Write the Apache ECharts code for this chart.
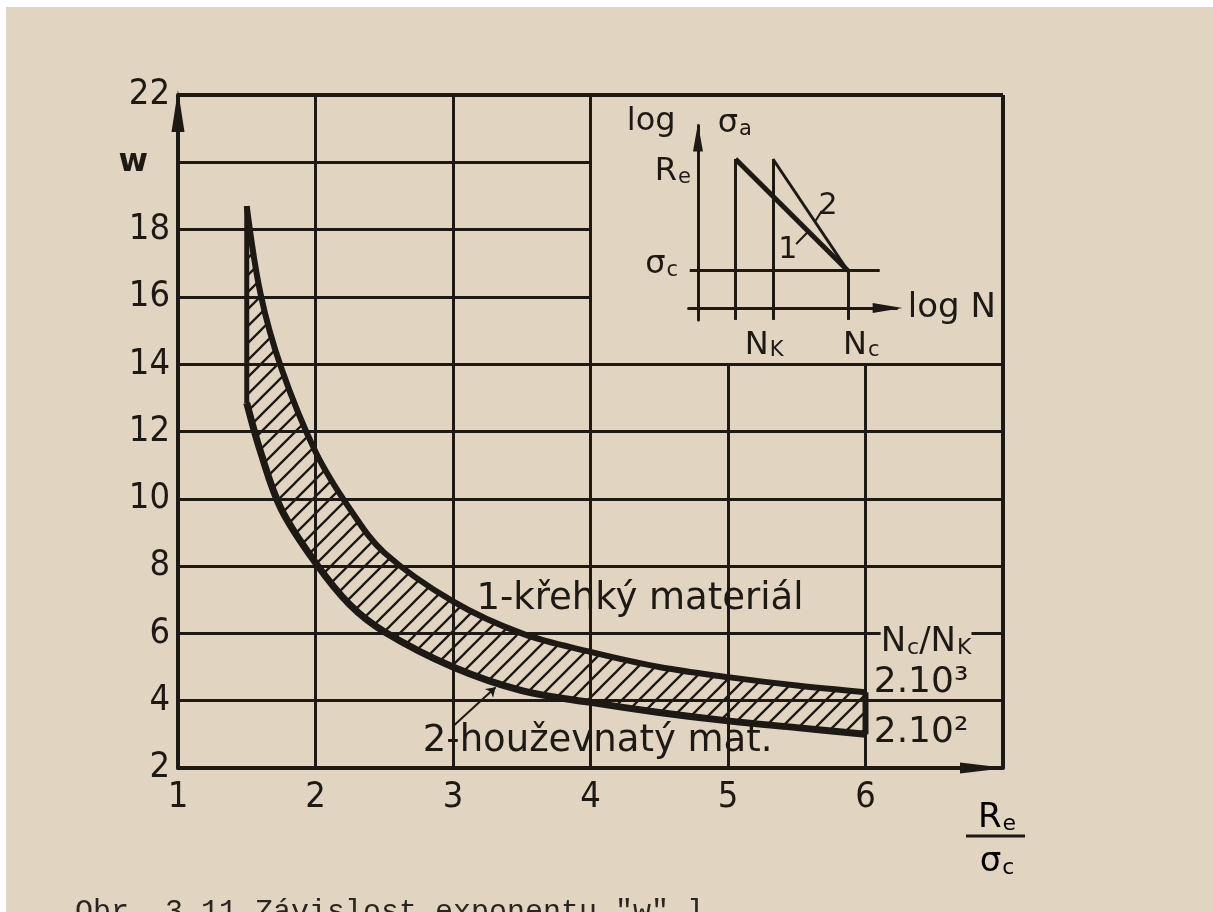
<!DOCTYPE html>
<html><head><meta charset="utf-8">
<script src="https://cdn.jsdelivr.net/npm/echarts@6/dist/echarts.min.js"></script>
<style>
html,body{margin:0;padding:0;background:#ffffff;overflow:hidden;}
#chart{position:absolute;left:6px;top:7px;width:1207px;height:905px;background:#e1d5c2;}
</style></head><body><div id="chart"></div>
<script>
// ---- data ----
const ratio    = [1.5, 1.6, 1.75, 2, 2.25, 2.5, 3, 3.5, 4, 4.5, 5, 5.5, 6];                     // Re / sigma_c
const wBrittle = [18.7, 16.1, 13.9, 11.4, 9.7, 8.4, 6.95, 6.0, 5.45, 5.0, 4.7, 4.45, 4.25];    // 1 - křehký, Nc/Nk = 2.10^3
const wTough   = [12.85, 11.4, 9.7, 8.1, 6.85, 6.05, 5.0, 4.3, 3.95, 3.65, 3.4, 3.2, 3.0];     // 2 - houževnatý, Nc/Nk = 2.10^2
const xTicks = [1, 2, 3, 4, 5, 6, 7];
const xTickLabels = ['1', '2', '3', '4', '5', '6', ''];
const yTicks = [2, 4, 6, 8, 10, 12, 14, 16, 18, 20, 22];
const yTickLabels = ['2', '4', '6', '8', '10', '12', '14', '16', '18', 'w', '22'];
// inset (log sigma_a vs log N)
const insetNK = [1, 2];
const insetNc = 4;
const insetRe = 4;
const insetSigmaC = 1;
const insetLine1 = [[1, 4], [4, 1]];
const insetLine2 = [[2, 4], [4, 1]];

const INK = '#1d1915', PAPER = '#e1d5c2';
const FONT = "'DejaVu Sans Condensed','Liberation Sans Narrow','DejaVu Sans',sans-serif";
const FONT2 = "'DejaVu Sans',sans-serif";
const SM = 0.35;

function hatchPattern() {
  const s = 17, c = document.createElement('canvas');
  c.width = s; c.height = s;
  const g = c.getContext('2d');
  g.strokeStyle = INK; g.lineWidth = 2.3; g.lineCap = 'square';
  g.beginPath();
  g.moveTo(-3, 3); g.lineTo(3, -3);
  g.moveTo(-3, s + 3); g.lineTo(s + 3, -3);
  g.moveTo(s - 3, s + 3); g.lineTo(s + 3, s - 3);
  g.stroke();
  return c;
}

// main grid line segments (the upper-right cell holds the inset)
const gridSegs = [];
xTicks.forEach(x => {
  if (x === 1) return;
  const top = (x === 5 || x === 6) ? 14 : 22;
  gridSegs.push([{coord: [x, 2], lineStyle: {width: x === 7 ? 4 : 3}}, {coord: [x, top]}]);
});
yTicks.forEach(y => {
  if (y === 2) return;
  const right = (y === 16 || y === 18 || y === 20) ? 4 : 7;
  gridSegs.push([{coord: [1, y], lineStyle: {width: y === 22 ? 4 : 3}}, {coord: [right, y]}]);
});

const pts = (arr) => ratio.map((x, i) => [x, arr[i]]);
const last = ratio.length - 1;

const chart = echarts.init(document.getElementById('chart'));

chart.setOption({
  animation: false,
  backgroundColor: PAPER,
  grid: [
    {left: 172, top: 88, width: 825, height: 673},
    {left: 682.6, top: 118.5, width: 208, height: 194.4}
  ],
  xAxis: [
    {type: 'value', gridIndex: 0, min: 1, max: 7, interval: 1, z: 6,
     axisLine: {show: true, lineStyle: {color: INK, width: 4}, symbol: ['none', 'triangle'], symbolSize: [11, 46], symbolOffset: [0, -20]},
     axisTick: {show: false}, splitLine: {show: false},
     axisLabel: {fontFamily: FONT, fontSize: 36, color: INK, margin: 12,
       formatter: v => xTickLabels[xTicks.indexOf(v)]}},
    {type: 'value', gridIndex: 1, min: -0.25, max: 5.3,
     axisLine: {show: true, onZero: true, lineStyle: {color: INK, width: 3}, symbol: ['none', 'triangle'], symbolSize: [10, 30], symbolOffset: [0, -9]},
     axisTick: {show: false}, splitLine: {show: false}, axisLabel: {show: false}}
  ],
  yAxis: [
    {type: 'value', gridIndex: 0, min: 2, max: 22, interval: 2, z: 6,
     axisLine: {show: true, lineStyle: {color: INK, width: 4}, symbol: ['none', 'triangle'], symbolSize: [13, 42], symbolOffset: [0, -16]},
     axisTick: {show: false}, splitLine: {show: false},
     axisLabel: {fontFamily: FONT, fontSize: 36, color: INK, margin: 8,
       formatter: v => { const t = yTickLabels[yTicks.indexOf(v)]; return t === 'w' ? '{w|w}' : t; },
       rich: {w: {fontFamily: FONT2, fontSize: 32, fontWeight: 'bold', color: INK, padding: [0, 22, 0, 0]}}}},
    {type: 'value', gridIndex: 1, min: -0.32, max: 4.9,
     axisLine: {show: true, onZero: true, lineStyle: {color: INK, width: 3}, symbol: ['none', 'triangle'], symbolSize: [10, 28], symbolOffset: [0, -12]},
     axisTick: {show: false}, splitLine: {show: false}, axisLabel: {show: false}}
  ],
  series: [
    // hatch from the upper curve down, then paper under the lower curve -> hatched band between
    {type: 'line', name: 'hatch', data: pts(wBrittle), symbol: 'none', smooth: SM,
     lineStyle: {width: 0, opacity: 0}, silent: true, z: 1,
     areaStyle: {color: {image: hatchPattern(), repeat: 'repeat'}, opacity: 1, origin: 'start'}},
    {type: 'line', name: 'under', data: pts(wTough), symbol: 'none', smooth: SM,
     lineStyle: {width: 0, opacity: 0}, silent: true, z: 2,
     areaStyle: {color: PAPER, opacity: 1, origin: 'start'},
     markLine: {silent: true, symbol: ['none', 'none'], label: {show: false},
       lineStyle: {color: INK, width: 3, type: 'solid'}, data: gridSegs}},
    {type: 'line', name: 'edgeCover', data: [[ratio[0], 2], [ratio[0], wTough[0]]], symbol: 'none',
     lineStyle: {color: PAPER, width: 3}, silent: true, z: 3},
    {type: 'line', name: '1 - křehký materiál', data: pts(wBrittle), symbol: 'none', smooth: SM,
     lineStyle: {color: INK, width: 6}, z: 4,
     markLine: {silent: true, symbol: ['none', 'arrow'], symbolSize: 9, label: {show: false},
       lineStyle: {color: INK, width: 2, type: 'solid'},
       data: [[{coord: [3.01, 3.28]}, {coord: [3.31, 4.4]}]]}},
    {type: 'line', name: '2 - houževnatý materiál', data: pts(wTough), symbol: 'none', smooth: SM,
     lineStyle: {color: INK, width: 7}, z: 4},
    {type: 'line', name: 'leftEdge', data: [[ratio[0], wTough[0]], [ratio[0], wBrittle[0]]], symbol: 'none',
     lineStyle: {color: INK, width: 5}, z: 4},
    {type: 'line', name: 'rightEdge', data: [[ratio[last], wTough[last]], [ratio[last], wBrittle[last]]], symbol: 'none',
     lineStyle: {color: INK, width: 6}, z: 4},
    // inset
    {type: 'line', xAxisIndex: 1, yAxisIndex: 1, data: insetLine1, symbol: 'none',
     lineStyle: {color: INK, width: 5}, z: 4,
     markLine: {silent: true, symbol: ['none', 'none'], label: {show: false},
       lineStyle: {color: INK, width: 3, type: 'solid'},
       data: [
         [{coord: [-0.3, insetRe]}, {coord: [insetNK[1], insetRe]}],
         [{coord: [-0.22, insetSigmaC]}, {coord: [4.85, insetSigmaC]}],
         [{coord: [insetNK[0], -0.32]}, {coord: [insetNK[0], insetRe]}],
         [{coord: [insetNK[1], -0.32]}, {coord: [insetNK[1], insetRe]}],
         [{coord: [insetNc, -0.32]}, {coord: [insetNc, insetSigmaC]}],
         [{coord: [2.62, 1.72], lineStyle: {width: 2}}, {coord: [2.93, 2.04]}],
         [{coord: [3.13, 2.33], lineStyle: {width: 2}}, {coord: [3.3, 2.6]}]
       ]}},
    {type: 'line', xAxisIndex: 1, yAxisIndex: 1, data: insetLine2, symbol: 'none',
     lineStyle: {color: INK, width: 3}, z: 4}
  ]
});

// ---- text annotations placed through the coordinate systems ----
const P = (g, xy) => chart.convertToPixel({gridIndex: g}, xy);
const sub = {b: {fontFamily: FONT2, fontSize: 34, color: INK}, s: {fontFamily: FONT2, fontSize: 22, color: INK, verticalAlign: 'bottom', padding: [0, 0, 0, 1]}};
const subS = {b: {fontFamily: FONT2, fontSize: 32, color: INK}, s: {fontFamily: FONT2, fontSize: 21, color: INK, verticalAlign: 'bottom', padding: [0, 0, 0, 1]}};
function txt(g, xy, text, size, align, extra) {
  const p = P(g, xy);
  return {type: 'text', x: p[0], y: p[1], z: 10,
    style: Object.assign({text, fontFamily: FONT2, fontSize: size, fill: INK, align: align || 'left', verticalAlign: 'middle'}, extra || {})};
}
const corner = P(0, [7, 2]);
const graphics = [
  txt(0, [3.17, 7.0], '1-křehký materiál', 37),
  txt(0, [2.78, 2.8], '2-houževnatý mat.', 37),
  txt(0, [6.11, 5.75], '{b|N}{s|c}{b|/N}{s|K}', 34, 'left', {rich: sub, backgroundColor: PAPER}),
  txt(0, [6.06, 4.55], '2.10³', 36),
  txt(0, [6.06, 3.05], '2.10²', 36),
  {type: 'text', x: corner[0] - 6, y: corner[1] + 50, z: 10,
   style: {text: '{b|R}{s|e}', rich: sub, align: 'center', verticalAlign: 'middle'}},
  {type: 'line', z: 10, shape: {x1: corner[0] - 37, y1: corner[1] + 68, x2: corner[0] + 22, y2: corner[1] + 68},
   style: {stroke: INK, lineWidth: 3}},
  {type: 'text', x: corner[0] - 6, y: corner[1] + 94, z: 10,
   style: {text: '{b|σ}{s|c}', rich: sub, align: 'center', verticalAlign: 'middle'}},
  // inset labels
  txt(1, [-1.9, 4.99], 'log', 32),
  txt(1, [0.53, 4.95], '{b|σ}{s|a}', 32, 'left', {rich: subS}),
  txt(1, [-1.15, 3.65], '{b|R}{s|e}', 32, 'left', {rich: subS}),
  txt(1, [-1.41, 1.15], '{b|σ}{s|c}', 32, 'left', {rich: subS}),
  txt(1, [5.6, 0.0], 'log N', 34),
  txt(1, [1.25, -1.0], '{b|N}{s|K}', 32, 'left', {rich: subS}),
  txt(1, [3.87, -1.0], '{b|N}{s|c}', 32, 'left', {rich: subS}),
  txt(1, [2.4, 1.56], '1', 30, 'center'),
  txt(1, [3.47, 2.74], '2', 30, 'center'),
  // caption (cut by the page edge)
  {type: 'text', x: 69, y: 890, z: 10,
   style: {text: 'Obr. 3.11 Závislost exponentu "w" l', fontFamily: "'Liberation Mono','DejaVu Sans Mono',monospace",
     fontSize: 30, fill: '#2a2520', align: 'left', verticalAlign: 'top'}}
];
chart.setOption({graphic: graphics});
</script></body></html>
